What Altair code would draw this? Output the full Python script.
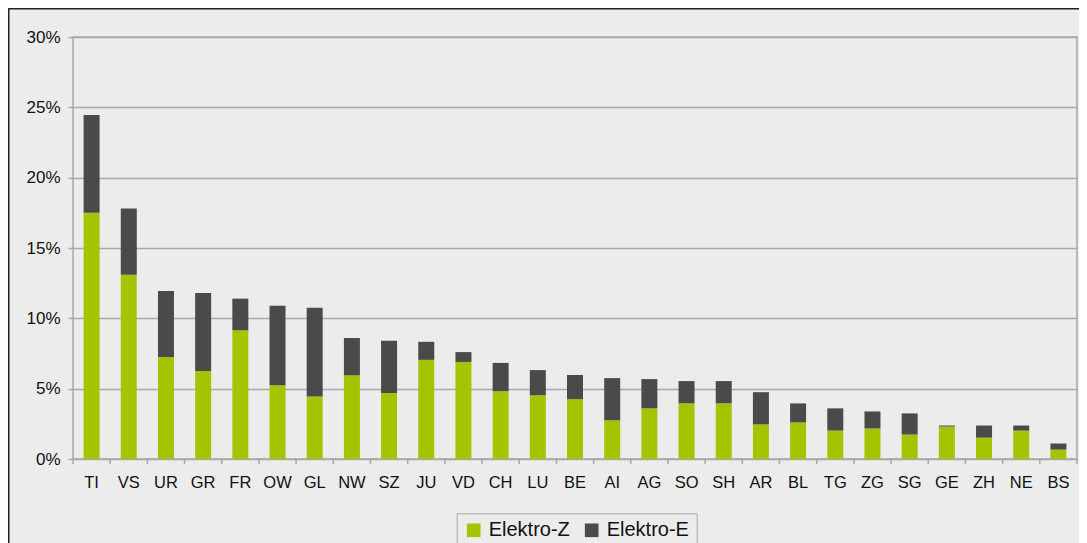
import altair as alt
import pandas as pd

cats = ["TI", "VS", "UR", "GR", "FR", "OW", "GL", "NW", "SZ", "JU", "VD", "CH", "LU", "BE",
        "AI", "AG", "SO", "SH", "AR", "BL", "TG", "ZG", "SG", "GE", "ZH", "NE", "BS"]
elektro_z = [17.5, 13.1, 7.25, 6.25, 9.15, 5.25, 4.45, 5.95, 4.7, 7.05, 6.9, 4.82, 4.53, 4.25,
             2.75, 3.6, 3.96, 3.96, 2.46, 2.6, 2.02, 2.17, 1.74, 2.31, 1.52, 2.02, 0.67]
elektro_e = [6.95, 4.7, 4.7, 5.55, 2.25, 5.65, 6.3, 2.65, 3.7, 1.28, 0.7, 2.01, 1.79, 1.72,
             3.0, 2.08, 1.58, 1.58, 2.29, 1.35, 1.58, 1.21, 1.5, 0.07, 0.86, 0.36, 0.43]
series = ["Elektro-Z", "Elektro-E"]
colors = ["#A4C400", "#4A4A4A"]
y_ticks = [0, 0.05, 0.10, 0.15, 0.20, 0.25, 0.30]

rows = []
for i, c in enumerate(cats):
    rows.append({"cat": c, "series": series[0], "value": elektro_z[i] / 100, "ord": 0})
    rows.append({"cat": c, "series": series[1], "value": elektro_e[i] / 100, "ord": 1})
df = pd.DataFrame(rows)
cat_df = pd.DataFrame({"cat": cats})
one = pd.DataFrame({"a": [0]})

FONT = "Liberation Sans"
GRID = "#A8A8A8"

x_axis = alt.Axis(title=None, ticks=False, domain=False, labelFontSize=16.5, labelFont=FONT,
                  labelColor="#111111", labelPadding=15, labelAngle=0)
x_scale = alt.Scale(paddingInner=0, paddingOuter=0)

bars = alt.Chart(df).mark_bar(size=16).encode(
    x=alt.X("cat:N", sort=cats, scale=x_scale, axis=x_axis),
    y=alt.Y("value:Q", stack="zero",
            scale=alt.Scale(domain=[0, 0.3], nice=False),
            axis=alt.Axis(title=None, values=y_ticks, format=".0%", labelFontSize=17,
                          labelFont=FONT, labelColor="#111111", labelPadding=8,
                          tickSize=5, tickColor=GRID, tickWidth=1.5, domain=False,
                          grid=True, gridColor=GRID, gridWidth=1.5)),
    color=alt.Color("series:N", scale=alt.Scale(domain=series, range=colors),
                    legend=alt.Legend(title=None, orient="none", legendX=383.7, legendY=476.3,
                                      direction="horizontal", symbolType="square",
                                      symbolSize=186, symbolStrokeWidth=0, labelFontSize=20,
                                      labelFont=FONT, labelColor="#111111", labelOffset=5,
                                      columnPadding=11, padding=7, strokeColor="#A8A8A8",
                                      fillColor="#ECECEC")),
    order=alt.Order("ord:Q", sort="ascending"),
)

xticks = alt.Chart(cat_df).mark_rule(color=GRID, strokeWidth=1.5).encode(
    x=alt.X("cat:N", sort=cats, scale=x_scale, axis=x_axis, bandPosition=0),
    y=alt.value(422), y2=alt.value(427),
)

end_tick = alt.Chart(one).mark_rule(color=GRID, strokeWidth=1.5).encode(
    x=alt.value(1004), y=alt.value(422), y2=alt.value(427),
)

border_top = alt.Chart(one).mark_rule(color="#222222", strokeWidth=2).encode(
    x=alt.value(-66), x2=alt.value(1030), y=alt.value(-28.5),
)
border_left = alt.Chart(one).mark_rule(color="#222222", strokeWidth=2).encode(
    x=alt.value(-64.5), y=alt.value(-30), y2=alt.value(530),
)

chart = alt.layer(bars, xticks, end_tick, border_top, border_left).properties(
    width=1004, height=422,
    padding={"left": 65, "top": 29, "right": 2, "bottom": 84},
    autosize="none",
    background="#ECECEC",
).configure_view(stroke=GRID, strokeWidth=1.5)

chart.save("out.html", embed_options={"renderer": "svg", "actions": False})
